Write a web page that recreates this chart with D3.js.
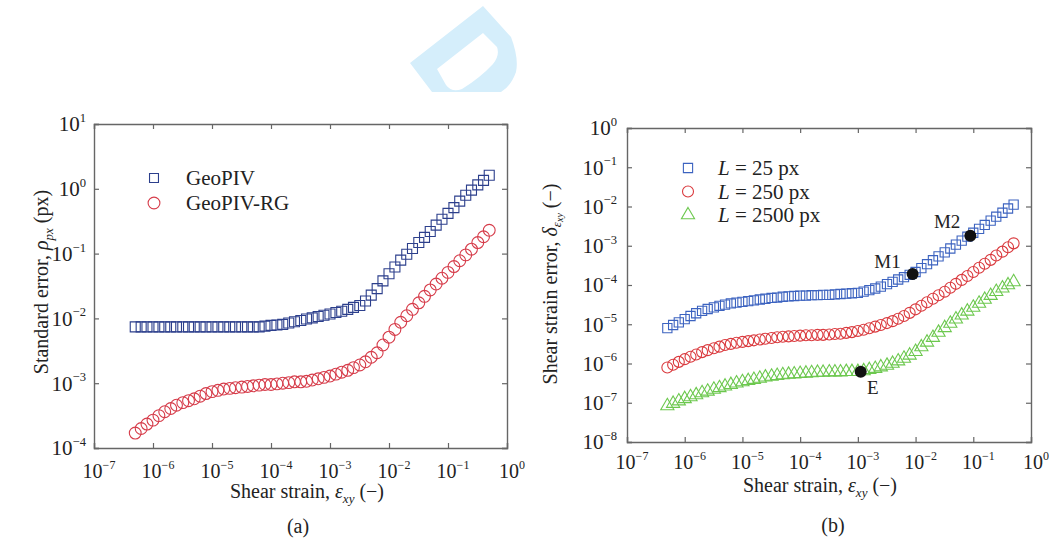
<!DOCTYPE html>
<html>
<head>
<meta charset="utf-8">
<script src="https://cdn.jsdelivr.net/npm/d3@7/dist/d3.min.js"></script>
<style>
  html, body { margin: 0; padding: 0; background: #fff; }
  svg { display: block; }
  text { font-family: "Liberation Serif", "Times New Roman", serif; fill: #222; }
</style>
</head>
<body>
<svg id="chart" width="1049" height="552"></svg>
<script>
// ---------- DATA ----------
const strain = [
  5.0e-7, 6.3e-7, 7.9e-7,
  1.0e-6, 1.26e-6, 1.58e-6, 2.0e-6, 2.5e-6, 3.2e-6, 4.0e-6, 5.0e-6, 6.3e-6, 7.9e-6,
  1.0e-5, 1.26e-5, 1.58e-5, 2.0e-5, 2.5e-5, 3.2e-5, 4.0e-5, 5.0e-5, 6.3e-5, 7.9e-5,
  1.0e-4, 1.26e-4, 1.58e-4, 2.0e-4, 2.5e-4, 3.2e-4, 4.0e-4, 5.0e-4, 6.3e-4, 7.9e-4,
  1.0e-3, 1.26e-3, 1.58e-3, 2.0e-3, 2.5e-3, 3.2e-3, 4.0e-3, 5.0e-3, 6.3e-3, 7.9e-3,
  1.0e-2, 1.26e-2, 1.58e-2, 2.0e-2, 2.5e-2, 3.2e-2, 4.0e-2, 5.0e-2, 6.3e-2, 7.9e-2,
  1.0e-1, 1.26e-1, 1.58e-1, 2.0e-1, 2.5e-1, 3.2e-1, 4.0e-1, 5.0e-1
];

// Panel (a): standard error (px)
const geoPIV = [
  7.4e-3, 7.4e-3, 7.4e-3, 7.4e-3, 7.4e-3, 7.4e-3, 7.4e-3, 7.4e-3, 7.4e-3, 7.4e-3,
  7.4e-3, 7.4e-3, 7.4e-3, 7.4e-3, 7.4e-3, 7.4e-3, 7.4e-3, 7.4e-3, 7.4e-3, 7.4e-3,
  7.4e-3, 7.4e-3, 7.6e-3, 7.8e-3, 7.9e-3, 8.1e-3, 8.5e-3, 8.9e-3, 9.3e-3, 9.8e-3,
  1.02e-2, 1.07e-2, 1.12e-2, 1.17e-2, 1.23e-2, 1.29e-2, 1.38e-2, 1.48e-2, 1.58e-2, 1.86e-2,
  2.29e-2, 2.88e-2, 3.80e-2, 4.9e-2, 6.2e-2, 7.94e-2, 9.77e-2, 0.120, 0.148, 0.178,
  0.219, 0.275, 0.339, 0.417, 0.513, 0.646, 0.794, 0.955, 1.15, 1.35, 1.62
];
const geoPIVRG = [
  1.70e-4, 2.00e-4, 2.34e-4, 2.69e-4, 3.16e-4, 3.63e-4, 4.07e-4, 4.57e-4, 5.01e-4, 5.37e-4,
  5.75e-4, 6.31e-4, 6.92e-4, 7.41e-4, 7.76e-4, 8.13e-4, 8.32e-4, 8.51e-4, 8.71e-4, 8.91e-4,
  9.12e-4, 9.33e-4, 9.55e-4, 9.55e-4, 9.77e-4, 1.00e-3, 1.02e-3, 1.05e-3, 1.05e-3, 1.07e-3,
  1.12e-3, 1.17e-3, 1.23e-3, 1.29e-3, 1.38e-3, 1.48e-3, 1.58e-3, 1.74e-3, 1.91e-3, 2.14e-3,
  2.51e-3, 2.95e-3, 3.89e-3, 5.13e-3, 6.76e-3, 8.71e-3, 1.10e-2, 1.38e-2, 1.74e-2, 2.19e-2,
  2.75e-2, 3.39e-2, 4.17e-2, 5.13e-2, 6.31e-2, 7.76e-2, 9.55e-2, 0.117, 0.148, 0.182, 0.229
];

// Panel (b): shear strain error
const L25 = [
  7.94e-6, 9.55e-6, 1.12e-5, 1.35e-5, 1.62e-5, 1.91e-5, 2.19e-5, 2.45e-5, 2.69e-5, 2.95e-5,
  3.16e-5, 3.39e-5, 3.55e-5, 3.72e-5, 3.89e-5, 4.07e-5, 4.27e-5, 4.47e-5, 4.68e-5, 4.79e-5,
  5.01e-5, 5.13e-5, 5.25e-5, 5.37e-5, 5.37e-5, 5.50e-5, 5.50e-5, 5.62e-5, 5.62e-5, 5.75e-5,
  5.89e-5, 6.03e-5, 6.17e-5, 6.31e-5, 6.76e-5, 7.41e-5, 8.13e-5, 9.12e-5, 1.05e-4, 1.20e-4,
  1.38e-4, 1.58e-4, 1.82e-4, 2.14e-4, 2.69e-4, 3.39e-4, 4.27e-4, 5.37e-4, 6.76e-4, 8.51e-4,
  1.07e-3, 1.35e-3, 1.70e-3, 2.14e-3, 2.69e-3, 3.39e-3, 4.37e-3, 5.50e-3, 6.92e-3, 8.91e-3, 1.12e-2
];
const L250 = [
  7.94e-7, 9.33e-7, 1.10e-6, 1.29e-6, 1.48e-6, 1.70e-6, 1.95e-6, 2.19e-6, 2.45e-6, 2.69e-6,
  2.95e-6, 3.16e-6, 3.39e-6, 3.55e-6, 3.72e-6, 3.89e-6, 4.07e-6, 4.27e-6, 4.47e-6, 4.68e-6,
  4.79e-6, 4.90e-6, 5.01e-6, 5.13e-6, 5.25e-6, 5.25e-6, 5.37e-6, 5.37e-6, 5.50e-6, 5.62e-6,
  5.75e-6, 6.03e-6, 6.31e-6, 6.76e-6, 7.24e-6, 7.94e-6, 8.71e-6, 9.55e-6, 1.07e-5, 1.20e-5,
  1.38e-5, 1.62e-5, 1.95e-5, 2.40e-5, 2.95e-5, 3.63e-5, 4.47e-5, 5.50e-5, 6.76e-5, 8.51e-5,
  1.07e-4, 1.35e-4, 1.70e-4, 2.14e-4, 2.75e-4, 3.47e-4, 4.37e-4, 5.62e-4, 7.08e-4, 9.12e-4, 1.15e-3
];
const L2500 = [
  8.32e-8, 9.55e-8, 1.10e-7, 1.26e-7, 1.41e-7, 1.58e-7, 1.78e-7, 1.95e-7, 2.19e-7, 2.40e-7,
  2.63e-7, 2.88e-7, 3.16e-7, 3.39e-7, 3.63e-7, 3.89e-7, 4.17e-7, 4.47e-7, 4.68e-7, 4.90e-7,
  5.13e-7, 5.25e-7, 5.37e-7, 5.50e-7, 5.62e-7, 5.75e-7, 5.89e-7, 5.89e-7, 6.03e-7, 6.03e-7,
  6.03e-7, 6.17e-7, 6.17e-7, 6.17e-7, 6.46e-7, 6.92e-7, 7.41e-7, 8.13e-7, 8.91e-7, 1.00e-6,
  1.15e-6, 1.35e-6, 1.62e-6, 2.00e-6, 2.63e-6, 3.47e-6, 4.57e-6, 6.17e-6, 8.13e-6, 1.05e-5,
  1.35e-5, 1.70e-5, 2.14e-5, 2.69e-5, 3.39e-5, 4.27e-5, 5.37e-5, 6.76e-5, 8.32e-5, 1.00e-4, 1.20e-4
];

// Highlighted points in panel (b)
const markNames = ["M1", "M2", "E"];
const markStrain = [8.9e-3, 8.9e-2, 1.12e-3];
const markError = [1.9e-4, 1.8e-3, 6.2e-7];

// Tick values / labels
const xTicks = [1e-7, 1e-6, 1e-5, 1e-4, 1e-3, 1e-2, 1e-1, 1];
const xTickExp = ["−7", "−6", "−5", "−4", "−3", "−2", "−1", "0"];
const yTicksA = [1e-4, 1e-3, 1e-2, 1e-1, 1, 10];
const yTickExpA = ["−4", "−3", "−2", "−1", "0", "1"];
const yTicksB = [1e-8, 1e-7, 1e-6, 1e-5, 1e-4, 1e-3, 1e-2, 1e-1, 1];
const yTickExpB = ["−8", "−7", "−6", "−5", "−4", "−3", "−2", "−1", "0"];

const legendA = ["GeoPIV", "GeoPIV-RG"];
const legendB = ["25 px", "250 px", "2500 px"];

// ---------- DRAWING ----------
const svg = d3.select("#chart");

// watermark logo (light blue) at the top
svg.append("path")
  .attr("d", "M483,6 L511,37 Q519,58 516,72 Q511,86 501,92 L432,92 L410,63 Z M483,33 L437,69 L446,85 Q452,93 462,89 Q480,78 493,64 Q500,55 497,47 Z")
  .attr("fill", "#d5eefb").attr("fill-rule", "evenodd");

function panel(cfg) {
  const x = d3.scaleLog().domain([1e-7, 1]).range([cfg.x0, cfg.x1]);
  const y = d3.scaleLog().domain(cfg.yDomain).range([cfg.y1, cfg.y0]);
  const g = svg.append("g");
  const axisColor = "#666";

  // axes with inward ticks on all four sides
  const axB = d3.axisBottom(x).tickValues(xTicks).tickSize(-5).tickFormat(() => "");
  const axT = d3.axisTop(x).tickValues(xTicks).tickSize(-5).tickFormat(() => "");
  const axL = d3.axisLeft(y).tickValues(cfg.yTicks).tickSize(-5).tickFormat(() => "");
  const axR = d3.axisRight(y).tickValues(cfg.yTicks).tickSize(-5).tickFormat(() => "");
  [[axB, `translate(0,${cfg.y1})`], [axT, `translate(0,${cfg.y0})`],
   [axL, `translate(${cfg.x0},0)`], [axR, `translate(${cfg.x1},0)`]].forEach(([ax, tr]) => {
    const a = g.append("g").attr("transform", tr).call(ax);
    a.selectAll("path").attr("stroke", axisColor).attr("stroke-width", 1.4);
    a.selectAll("line").attr("stroke", axisColor).attr("stroke-width", 1.2);
  });

  // x tick labels
  xTicks.forEach((t, i) => {
    const tx = g.append("text")
      .attr("x", x(t) + cfg.xLabDx).attr("y", cfg.xLabY)
      .attr("text-anchor", "middle").attr("font-size", cfg.xLabSize);
    tx.append("tspan").text("10");
    tx.append("tspan").attr("dy", -cfg.xLabSize * 0.45).attr("font-size", cfg.xLabSize * 0.6).text(xTickExp[i]);
  });
  // y tick labels
  cfg.yTicks.forEach((t, i) => {
    const ty = g.append("text")
      .attr("x", cfg.x0 - cfg.yLabGap).attr("y", y(t) + cfg.yLabSize * 0.35)
      .attr("text-anchor", "end").attr("font-size", cfg.yLabSize);
    ty.append("tspan").text("10");
    ty.append("tspan").attr("dy", -cfg.yLabSize * 0.45).attr("font-size", cfg.yLabSize * 0.6).text(cfg.yTickExp[i]);
  });

  // x axis title
  const xt = g.append("text").attr("x", cfg.xTitleX).attr("y", cfg.xTitleY)
    .attr("text-anchor", "middle").attr("font-size", 20);
  xt.append("tspan").text("Shear strain, ");
  xt.append("tspan").attr("font-style", "italic").text("ε");
  xt.append("tspan").attr("font-style", "italic").attr("font-size", 13).attr("dy", 5).text("xy");
  xt.append("tspan").attr("dy", -5).text(" (−)");

  // panel label
  g.append("text").attr("x", cfg.capX).attr("y", cfg.capY)
    .attr("text-anchor", "middle").attr("font-size", 20).text(cfg.cap);

  return { g, x, y };
}

function drawSeries(p, data, shape, color, size) {
  const sym = d3.symbol().type(shape).size(size);
  p.g.append("g").selectAll("path")
    .data(strain.map((s, i) => [s, data[i]]))
    .join("path")
    .attr("transform", d => `translate(${p.x(d[0])},${p.y(d[1])})`)
    .attr("d", sym)
    .attr("fill", "none").attr("stroke", color).attr("stroke-width", 1.1);
}

const colA = ["#2c3f8c", "#d63c4a"];
const colB = ["#3c63c0", "#da3a3e", "#6cc84e"];
const sizeA = [100, 110];
const sizeB = [85, 95, 75];

// ---- Panel (a) ----
const pa = panel({
  x0: 94, x1: 507, y0: 124, y1: 448, yDomain: [1e-4, 10],
  yTicks: yTicksA, yTickExp: yTickExpA,
  xLabY: 478, xLabSize: 20, xLabDx: 5, yLabSize: 21, yLabGap: 8,
  xTitleX: 307, xTitleY: 498, cap: "(a)", capX: 298, capY: 533
});
drawSeries(pa, geoPIV, d3.symbolSquare, colA[0], sizeA[0]);
drawSeries(pa, geoPIVRG, d3.symbolCircle, colA[1], sizeA[1]);

// y title (a)
{
  const t = pa.g.append("text").attr("transform", "translate(48,282) rotate(-90)")
    .attr("text-anchor", "middle").attr("font-size", 20);
  t.append("tspan").text("Standard error, ");
  t.append("tspan").attr("font-style", "italic").text("ρ");
  t.append("tspan").attr("font-style", "italic").attr("font-size", 13).attr("dy", 5).text("px");
  t.append("tspan").attr("dy", -5).text(" (px)");
}
// legend (a)
{
  const shapes = [d3.symbolSquare, d3.symbolCircle];
  legendA.forEach((name, i) => {
    const yy = 178 + i * 25;
    pa.g.append("path").attr("transform", `translate(154,${yy})`)
      .attr("d", d3.symbol().type(shapes[i]).size(i === 0 ? 80 : 110))
      .attr("fill", "none").attr("stroke", colA[i]).attr("stroke-width", 1.1);
    pa.g.append("text").attr("x", 186).attr("y", yy + 7).attr("font-size", 21).text(name);
  });
}

// ---- Panel (b) ----
const pb = panel({
  x0: 627, x1: 1031, y0: 128, y1: 442, yDomain: [1e-8, 1],
  yTicks: yTicksB, yTickExp: yTickExpB,
  xLabY: 469, xLabSize: 20, xLabDx: 5, yLabSize: 21, yLabGap: 10,
  xTitleX: 820, xTitleY: 492, cap: "(b)", capX: 833, capY: 532
});
drawSeries(pb, L25, d3.symbolSquare, colB[0], sizeB[0]);
drawSeries(pb, L250, d3.symbolCircle, colB[1], sizeB[1]);
drawSeries(pb, L2500, d3.symbolTriangle, colB[2], sizeB[2]);

// highlighted points
markNames.forEach((n, i) => {
  const cx = pb.x(markStrain[i]), cy = pb.y(markError[i]);
  pb.g.append("circle").attr("cx", cx).attr("cy", cy).attr("r", 6).attr("fill", "#111");
});
pb.g.append("text").attr("x", pb.x(markStrain[0]) - 12).attr("y", pb.y(markError[0]) - 6)
  .attr("text-anchor", "end").attr("font-size", 19).text(markNames[0]);
pb.g.append("text").attr("x", pb.x(markStrain[1]) - 10).attr("y", pb.y(markError[1]) - 8)
  .attr("text-anchor", "end").attr("font-size", 19).text(markNames[1]);
pb.g.append("text").attr("x", pb.x(markStrain[2]) + 12).attr("y", pb.y(markError[2]) + 22)
  .attr("text-anchor", "middle").attr("font-size", 19).text(markNames[2]);

// y title (b)
{
  const t = pb.g.append("text").attr("transform", "translate(557,284) rotate(-90)")
    .attr("text-anchor", "middle").attr("font-size", 20);
  t.append("tspan").text("Shear strain error, ");
  t.append("tspan").attr("font-style", "italic").text("δ");
  t.append("tspan").attr("font-style", "italic").attr("font-size", 13).attr("dy", 4).text("ε");
  t.append("tspan").attr("font-style", "italic").attr("font-size", 10).attr("dy", 2).text("xy");
  t.append("tspan").attr("dy", -6).text(" (−)");
}
// legend (b)
{
  const shapes = [d3.symbolSquare, d3.symbolCircle, d3.symbolTriangle];
  legendB.forEach((name, i) => {
    const yy = 168 + i * 23.5;
    pb.g.append("path").attr("transform", `translate(688,${yy})`)
      .attr("d", d3.symbol().type(shapes[i]).size(sizeB[i]))
      .attr("fill", "none").attr("stroke", colB[i]).attr("stroke-width", 1.1);
    const t = pb.g.append("text").attr("x", 718).attr("y", yy + 7).attr("font-size", 21);
    t.append("tspan").attr("font-style", "italic").text("L");
    t.append("tspan").text(" = " + name);
  });
}
</script>
</body>
</html>
